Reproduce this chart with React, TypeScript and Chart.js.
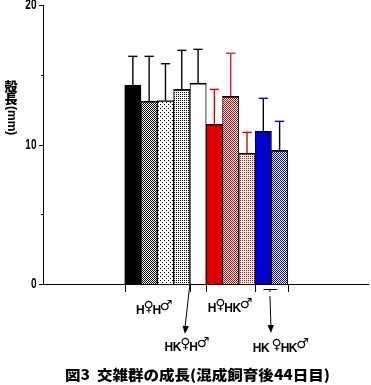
import React, { useEffect, useRef } from 'react';
import { Chart, registerables } from 'chart.js';

Chart.register(...registerables);

// ---- data ----
const groupLabels = ['H♀H♂', 'HK♀H♂', 'H♀HK♂', 'HK ♀HK♂'];
const barGroup = [0, 0, 0, 0, 1, 2, 2, 2, 3, 3];
const barMeans = [14.26, 13.1, 13.15, 13.95, 14.4, 11.45, 13.45, 9.37, 10.95, 9.58];
const barErrors = [2.06, 3.22, 2.64, 2.8, 2.42, 2.5, 3.09, 1.5, 2.36, 2.08];
const yMajorTicks = [0, 10, 20];
const yMinorTicks = [5, 15];
const groupBoundaries = [-0.5, 3.5, 4.5, 7.5, 9.5];
const yTitleUpright = '殻長';
const yTitleRotated = '(mm)';
const titleText = '図3  交雑群の成長(混成飼育後44日目)';

// ---- styles ----
const errLineColors = ['#000', '#000', '#000', '#000', '#000', '#d80000', '#e02020', '#d80000', '#000', '#000'];
const errCapColors = ['#000', '#000', '#000', '#000', '#000', '#d80000', '#e02020', '#d80000', '#0000cc', '#0000cc'];
// label placement relative to group centre: dx, baseline y
const labelLayout = [
  { dx: -4, y: 314 },
  { dx: -12, y: 351 },
  { dx: -1.5, y: 312 },
  { dx: 8.5, y: 352 },
];

function makePattern(ctx: CanvasRenderingContext2D, w: number, h: number, bg: string, fg: string, cells: number[][]) {
  const c = document.createElement('canvas');
  c.width = w;
  c.height = h;
  const g = c.getContext('2d')!;
  g.fillStyle = bg;
  g.fillRect(0, 0, w, h);
  g.fillStyle = fg;
  cells.forEach(([x, y]) => g.fillRect(x, y, 1, 1));
  return ctx.createPattern(c, 'repeat')!;
}

function drawScaled(ctx: CanvasRenderingContext2D, text: string, x: number, y: number, font: string, sx: number, align: 'left' | 'right' | 'center', baseline: CanvasTextBaseline) {
  ctx.save();
  ctx.font = font;
  ctx.textBaseline = baseline;
  ctx.textAlign = 'left';
  const w = ctx.measureText(text).width * sx;
  let left = x;
  if (align === 'right') left = x - w;
  if (align === 'center') left = x - w / 2;
  ctx.translate(left, y);
  ctx.scale(sx, 1);
  ctx.fillText(text, 0, 0);
  ctx.restore();
}

const LETTER_FONT = 'bold 12px "Liberation Sans", Arial, sans-serif';
const SYMBOL_FONT = 'bold 14px "DejaVu Sans", sans-serif';

function drawSexLabel(ctx: CanvasRenderingContext2D, label: string, cx: number, baseline: number) {
  const parts = Array.from(label).map((ch) => ({
    t: ch,
    sym: ch === '♀' || ch === '♂',
  }));
  const widths = parts.map((p) => {
    ctx.font = p.sym ? SYMBOL_FONT : LETTER_FONT;
    return ctx.measureText(p.t).width * (p.sym ? 0.8 : 0.95);
  });
  const total = widths.reduce((a, b) => a + b, 0);
  let x = cx - total / 2;
  ctx.textAlign = 'left';
  ctx.textBaseline = 'alphabetic';
  parts.forEach((p, i) => {
    ctx.font = p.sym ? SYMBOL_FONT : LETTER_FONT;
    const dy = p.t === '♀' ? -3 : p.t === '♂' ? -4 : 0;
    ctx.fillText(p.t, x - (p.sym ? 0.8 : 0), baseline + dy);
    x += widths[i];
  });
}

function drawArrow(ctx: CanvasRenderingContext2D, x0: number, y0: number, x1: number, y1: number) {
  ctx.beginPath();
  ctx.moveTo(x0, y0);
  ctx.lineTo(x1, y1 - 6);
  ctx.stroke();
  const ang = Math.atan2(y1 - y0, x1 - x0);
  const len = 8;
  const half = 3.2;
  const bx = x1 - len * Math.cos(ang);
  const by = y1 - len * Math.sin(ang);
  ctx.beginPath();
  ctx.moveTo(x1, y1);
  ctx.lineTo(bx + half * Math.sin(ang), by - half * Math.cos(ang));
  ctx.lineTo(bx - half * Math.sin(ang), by + half * Math.cos(ang));
  ctx.closePath();
  ctx.fill();
}

const overlayPlugin = {
  id: 'overlay',
  afterDraw(chart: any) {
    const ctx: CanvasRenderingContext2D = chart.ctx;
    const xs = chart.scales.x;
    const ys = chart.scales.y;
    const area = chart.chartArea;
    ctx.save();
    ctx.strokeStyle = '#000';
    ctx.fillStyle = '#000';
    ctx.lineWidth = 1;

    // y ticks
    const axX = Math.round(area.left) - 0.5 + 1;
    yMajorTicks.forEach((v) => {
      const y = Math.round(ys.getPixelForValue(v)) + 0.5;
      ctx.beginPath();
      ctx.moveTo(axX - 4.5, y);
      ctx.lineTo(axX, y);
      ctx.stroke();
      drawScaled(ctx, String(v), axX - 7, ys.getPixelForValue(v) + 0.5, 'bold 14px "Liberation Sans", Arial, sans-serif', 0.72, 'right', 'middle');
    });
    yMinorTicks.forEach((v) => {
      const y = Math.round(ys.getPixelForValue(v)) + 0.5;
      ctx.beginPath();
      ctx.moveTo(axX - 2.5, y);
      ctx.lineTo(axX, y);
      ctx.stroke();
    });

    // x ticks at group boundaries
    groupBoundaries.forEach((v) => {
      const x = Math.round(xs.getPixelForValue(v)) + 0.5;
      ctx.beginPath();
      ctx.moveTo(x, area.bottom);
      ctx.lineTo(x, area.bottom + 8);
      ctx.stroke();
    });

    // error bars
    const meta = chart.getDatasetMeta(0);
    meta.data.forEach((el: any, i: number) => {
      const top = ys.getPixelForValue(barMeans[i] + barErrors[i]);
      const x = el.x;
      ctx.lineWidth = 1.4;
      ctx.strokeStyle = errLineColors[i];
      ctx.beginPath();
      ctx.moveTo(x, el.y);
      ctx.lineTo(x, top);
      ctx.stroke();
      ctx.strokeStyle = errCapColors[i];
      ctx.beginPath();
      ctx.moveTo(x - 4.6, top);
      ctx.lineTo(x + 4.6, top);
      ctx.stroke();
    });

    // group labels
    ctx.fillStyle = '#000';
    ctx.strokeStyle = '#000';
    ctx.lineWidth = 1;
    const centers = groupLabels.map((_, g) => {
      const idx = barGroup.map((bg, i) => (bg === g ? i : -1)).filter((i) => i >= 0);
      const mid = (idx[0] + idx[idx.length - 1]) / 2;
      return xs.getPixelForValue(mid);
    });
    groupLabels.forEach((lab, g) => {
      drawSexLabel(ctx, lab, centers[g] + labelLayout[g].dx, labelLayout[g].y);
    });

    // arrows
    const bx = xs.getPixelForValue(groupBoundaries[1]);
    drawArrow(ctx, bx, area.bottom, bx - 5, 334);
    const c3 = centers[3];
    drawArrow(ctx, c3 - 1.5, 296, c3 - 0.5, 333);
    // small bracket under blue group
    ctx.beginPath();
    ctx.moveTo(c3 - 8, 289.5);
    ctx.lineTo(c3 + 5.5, 289.5);
    ctx.moveTo(c3 - 1.5, 289.5);
    ctx.lineTo(c3 - 1.5, 292);
    ctx.stroke();

    // y-axis title (vertical)
    ctx.font = '900 13px "Noto Sans CJK JP", sans-serif';
    ctx.textAlign = 'center';
    ctx.textBaseline = 'middle';
    Array.from(yTitleUpright).forEach((ch, i) => {
      ctx.fillText(ch, 11, 86 + i * 12.5);
    });
    ctx.save();
    ctx.translate(11, 106);
    ctx.rotate(Math.PI / 2);
    ctx.textAlign = 'left';
    ctx.textBaseline = 'middle';
    ctx.font = 'bold 12px "Liberation Sans", Arial, sans-serif';
    ctx.fillText(yTitleRotated, 0, 0);
    ctx.restore();

    // figure title
    const tFont = '900 14px "Noto Sans CJK JP", sans-serif';
    ctx.font = tFont;
    const tw = ctx.measureText(titleText).width;
    const sx = 265 / tw;
    drawScaled(ctx, titleText, 197.5, 380, tFont, sx, 'center', 'alphabetic');

    ctx.restore();
  },
};

export default function App() {
  const ref = useRef<HTMLCanvasElement>(null);
  useEffect(() => {
    const canvas = ref.current!;
    const ctx = canvas.getContext('2d')!;
    const fills = [
      '#000000',
      makePattern(ctx, 2, 2, '#ffffff', '#000000', [[0, 0], [1, 1]]),
      makePattern(ctx, 4, 4, '#ffffff', '#000000', [[0, 0], [2, 2]]),
      makePattern(ctx, 2, 2, '#ffffff', '#000000', [[0, 0]]),
      '#ffffff',
      '#dd0000',
      makePattern(ctx, 2, 2, '#ffffff', '#dd0000', [[0, 0], [1, 1]]),
      makePattern(ctx, 2, 2, '#fff4f4', '#dd0000', [[0, 0]]),
      '#0000cc',
      makePattern(ctx, 2, 2, '#ffffff', '#0000cc', [[0, 0], [1, 1]]),
    ];
    const chart = new Chart(canvas, {
      type: 'bar',
      data: {
        datasets: [
          {
            data: barMeans.map((v, i) => ({ x: i, y: v })),
            backgroundColor: fills as any,
            borderColor: '#000',
            borderWidth: { top: 1.6, left: 1, right: 1, bottom: 0 },
            borderSkipped: 'start',
            barPercentage: 1,
            categoryPercentage: 1,
          },
        ],
      },
      options: {
        responsive: false,
        animation: false,
        devicePixelRatio: 1,
        layout: { padding: { left: 0, right: 3, top: 5, bottom: 0 } },
        plugins: { legend: { display: false }, tooltip: { enabled: false }, title: { display: false } },
        scales: {
          x: {
            type: 'linear',
            min: -5.51,
            max: 14.42,
            offset: false,
            grid: { display: false },
            border: { display: true, color: '#000', width: 1 },
            ticks: { display: false },
            afterFit(s: any) {
              s.height = 101;
              s.paddingLeft = 0;
              s.paddingRight = 0;
            },
          },
          y: {
            min: 0,
            max: 20,
            grid: { display: false },
            border: { display: true, color: '#000', width: 1 },
            ticks: { display: false },
            afterFit(s: any) {
              s.width = 43;
              s.paddingTop = 0;
              s.paddingBottom = 0;
            },
          },
        },
      } as any,
      plugins: [overlayPlugin],
    });
    return () => chart.destroy();
  }, []);
  return (
    <div style={{ position: 'fixed', left: 0, top: 0, width: 371, height: 385, background: '#fff' }}>
      <canvas ref={ref} width={371} height={385} style={{ display: 'block' }} />
    </div>
  );
}
